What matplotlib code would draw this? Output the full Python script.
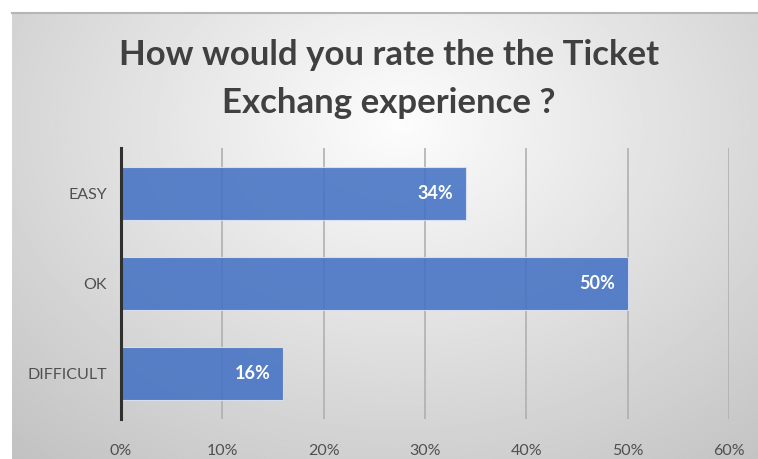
import numpy as np
import matplotlib.pyplot as plt

# survey results
categories = ["EASY", "OK", "DIFFICULT"]
shares = [34, 50, 16]          # percent of respondents
x_ticks = [0, 10, 20, 30, 40, 50, 60]

plt.rcParams['font.family'] = ['Lato', 'DejaVu Sans']

fig = plt.figure(figsize=(7.58, 4.59), dpi=100)
fig.patch.set_facecolor('white')

# chart panel with a soft radial gradient
W, H = 758, 459
px0, px1, py0, py1 = 12, 758, 13, 459
bg = fig.add_axes([px0 / W, 1 - py1 / H, (px1 - px0) / W, (py1 - py0) / H])
gx, gy = np.meshgrid(np.linspace(0, 1, 400), np.linspace(0, 1, 250))
r = np.sqrt(((gx - 0.52) / 0.75) ** 2 + ((gy - 0.25) / 0.95) ** 2)
shade = np.clip(0.99 - 0.22 * r, 0.76, 1.0)
bg.imshow(shade, cmap='gray', vmin=0, vmax=1, aspect='auto',
          extent=[0, 1, 1, 0], interpolation='bilinear')
bg.set_xticks([])
bg.set_yticks([])
for s in ['left', 'right', 'bottom']:
    bg.spines[s].set_visible(False)
bg.spines['top'].set_color('#b5b5b5')
bg.spines['top'].set_linewidth(1.5)

fig.text(389 / W, 1 - 55 / H,
         "How would you rate the the Ticket", ha='center', va='center',
         fontsize=25, fontweight='bold', color='#404040')
fig.text(389 / W, 1 - 103 / H,
         "Exchang experience ?", ha='center', va='center',
         fontsize=25, fontweight='bold', color='#404040')

# plot area
ax_l, ax_r, ax_t, ax_b = 121, 729, 148, 419
ax = fig.add_axes([ax_l / W, 1 - ax_b / H, (ax_r - ax_l) / W, (ax_b - ax_t) / H])
ax.patch.set_alpha(0)

ypos = np.arange(len(categories))
bars = ax.barh(ypos, shares, height=0.59, color='#4472c4', alpha=0.88,
               edgecolor='#dfe6f3', linewidth=0.8, zorder=3)
for b, v in zip(bars, shares):
    ax.text(v - 1.2, b.get_y() + b.get_height() / 2, f"{v}%",
            ha='right', va='center', color='white', fontsize=13,
            fontweight='bold', zorder=4)

ax.set_xlim(0, 60)
ax.set_ylim(len(categories) - 0.5, -0.5)
ax.set_xticks(x_ticks)
ax.set_xticklabels([f"{t}%" for t in x_ticks])
ax.set_yticks(ypos)
ax.set_yticklabels(categories)
ax.xaxis.grid(True, color='#b0b0b0', linewidth=1.2, zorder=0)
ax.tick_params(axis='both', length=0, labelsize=11.5, colors='#505050')
ax.tick_params(axis='x', pad=18)
ax.tick_params(axis='y', pad=10)
for s in ['top', 'right', 'bottom']:
    ax.spines[s].set_visible(False)
ax.spines['left'].set_color('#303030')
ax.spines['left'].set_linewidth(2.2)
ax.spines['left'].set_zorder(5)

fig.savefig('out.png', dpi=100)
